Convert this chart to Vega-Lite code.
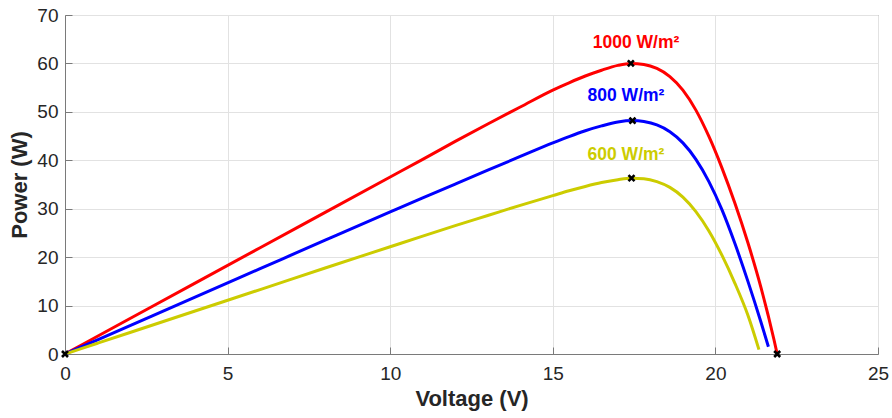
{
  "$schema": "https://vega.github.io/schema/vega-lite/v6.json",
  "width": 813,
  "height": 339,
  "autosize": {"type": "none"},
  "padding": {"left": 65, "top": 15, "right": 14, "bottom": 64},
  "background": "white",
  "config": {
    "view": {"stroke": "#7a7a7a", "strokeWidth": 1},
    "font": "Liberation Sans",
    "axis": {
      "grid": true,
      "gridColor": "#e2e2e2",
      "gridWidth": 1,
      "domainColor": "#7a7a7a",
      "tickColor": "#7a7a7a",
      "tickSize": -7,
      "labelFlush": false,
      "labelFont": "Liberation Sans",
      "labelFontSize": 19,
      "labelColor": "#262626",
      "titleFont": "Liberation Sans",
      "titleFontSize": 22,
      "titleFontWeight": "bold",
      "titleColor": "#262626"
    }
  },
  "datasets": {
    "curves": [
      {"G": "1000", "V": 0, "P": 0}, {"G": "1000", "V": 1, "P": 3.66}, {"G": "1000", "V": 2, "P": 7.32},
      {"G": "1000", "V": 4, "P": 14.64}, {"G": "1000", "V": 6, "P": 21.95}, {"G": "1000", "V": 8, "P": 29.25},
      {"G": "1000", "V": 10, "P": 36.55}, {"G": "1000", "V": 11, "P": 40.2}, {"G": "1000", "V": 12, "P": 43.9},
      {"G": "1000", "V": 13, "P": 47.5}, {"G": "1000", "V": 14, "P": 51.0}, {"G": "1000", "V": 15, "P": 54.5},
      {"G": "1000", "V": 15.5, "P": 56.0}, {"G": "1000", "V": 16, "P": 57.4}, {"G": "1000", "V": 16.5, "P": 58.6},
      {"G": "1000", "V": 17, "P": 59.6}, {"G": "1000", "V": 17.4, "P": 60.0}, {"G": "1000", "V": 17.8, "P": 59.8},
      {"G": "1000", "V": 18.2, "P": 58.96}, {"G": "1000", "V": 18.6, "P": 57.28}, {"G": "1000", "V": 19.0, "P": 54.48},
      {"G": "1000", "V": 19.4, "P": 50.36}, {"G": "1000", "V": 19.8, "P": 44.92}, {"G": "1000", "V": 20.2, "P": 38.44},
      {"G": "1000", "V": 20.6, "P": 31.12}, {"G": "1000", "V": 21.0, "P": 22.96}, {"G": "1000", "V": 21.4, "P": 13.76},
      {"G": "1000", "V": 21.8, "P": 3.0}, {"G": "1000", "V": 21.9, "P": 0},

      {"G": "800", "V": 0, "P": 0}, {"G": "800", "V": 1, "P": 2.94}, {"G": "800", "V": 2, "P": 5.88},
      {"G": "800", "V": 4, "P": 11.76}, {"G": "800", "V": 6, "P": 17.63}, {"G": "800", "V": 8, "P": 23.5},
      {"G": "800", "V": 10, "P": 29.35}, {"G": "800", "V": 11, "P": 32.25}, {"G": "800", "V": 12, "P": 35.1},
      {"G": "800", "V": 13, "P": 37.95}, {"G": "800", "V": 14, "P": 40.8}, {"G": "800", "V": 15, "P": 43.6},
      {"G": "800", "V": 15.5, "P": 44.9}, {"G": "800", "V": 16, "P": 46.1}, {"G": "800", "V": 16.5, "P": 47.1},
      {"G": "800", "V": 17, "P": 47.9}, {"G": "800", "V": 17.45, "P": 48.2}, {"G": "800", "V": 17.8, "P": 48.0},
      {"G": "800", "V": 18.2, "P": 47.3}, {"G": "800", "V": 18.6, "P": 45.9}, {"G": "800", "V": 19.0, "P": 43.6},
      {"G": "800", "V": 19.4, "P": 40.2}, {"G": "800", "V": 19.8, "P": 35.6}, {"G": "800", "V": 20.2, "P": 29.8},
      {"G": "800", "V": 20.6, "P": 22.8}, {"G": "800", "V": 21.0, "P": 15.0}, {"G": "800", "V": 21.4, "P": 6.6},
      {"G": "800", "V": 21.63, "P": 1.5},

      {"G": "600", "V": 0, "P": 0}, {"G": "600", "V": 1, "P": 2.22}, {"G": "600", "V": 2, "P": 4.44},
      {"G": "600", "V": 4, "P": 8.88}, {"G": "600", "V": 6, "P": 13.3}, {"G": "600", "V": 8, "P": 17.75},
      {"G": "600", "V": 10, "P": 22.15}, {"G": "600", "V": 11, "P": 24.35}, {"G": "600", "V": 12, "P": 26.5},
      {"G": "600", "V": 13, "P": 28.6}, {"G": "600", "V": 14, "P": 30.7}, {"G": "600", "V": 15, "P": 32.7},
      {"G": "600", "V": 15.5, "P": 33.7}, {"G": "600", "V": 16, "P": 34.6}, {"G": "600", "V": 16.5, "P": 35.4},
      {"G": "600", "V": 17, "P": 36.0}, {"G": "600", "V": 17.42, "P": 36.3}, {"G": "600", "V": 17.8, "P": 36.2},
      {"G": "600", "V": 18.2, "P": 35.6}, {"G": "600", "V": 18.6, "P": 34.4}, {"G": "600", "V": 19.0, "P": 32.4},
      {"G": "600", "V": 19.4, "P": 29.4}, {"G": "600", "V": 19.8, "P": 25.4}, {"G": "600", "V": 20.2, "P": 20.4},
      {"G": "600", "V": 20.6, "P": 14.6}, {"G": "600", "V": 21.0, "P": 8.0}, {"G": "600", "V": 21.34, "P": 0.9}
    ],
    "markers": [
      {"V": 0, "P": 0},
      {"V": 17.4, "P": 60.0},
      {"V": 17.45, "P": 48.2},
      {"V": 17.42, "P": 36.3},
      {"V": 21.9, "P": 0}
    ],
    "labels": [
      {"G": "1000", "V": 17.56, "P": 64.3, "t": "1000 W/m²"},
      {"G": "800", "V": 17.25, "P": 53.2, "t": "800 W/m²"},
      {"G": "600", "V": 17.25, "P": 41.0, "t": "600 W/m²"}
    ]
  },
  "encoding": {
    "x": {
      "field": "V", "type": "quantitative",
      "scale": {"domain": [0, 25], "nice": false, "zero": false},
      "axis": {"values": [0, 5, 10, 15, 20, 25], "title": "Voltage (V)", "labelPadding": 17, "titlePadding": 5}
    },
    "y": {
      "field": "P", "type": "quantitative",
      "scale": {"domain": [0, 70], "nice": false},
      "axis": {"values": [0, 10, 20, 30, 40, 50, 60, 70], "title": "Power (W)", "labelPadding": 14, "titlePadding": 5}
    }
  },
  "layer": [
    {
      "data": {"name": "curves"},
      "mark": {"type": "line", "strokeWidth": 3, "interpolate": "monotone", "clip": true},
      "encoding": {
        "color": {
          "field": "G", "type": "nominal",
          "scale": {"domain": ["1000", "800", "600"], "range": ["#ff0000", "#0000ff", "#cccc00"]},
          "legend": null
        },
        "detail": {"field": "G"}
      }
    },
    {
      "data": {"name": "markers"},
      "mark": {
        "type": "point",
        "shape": "M-1,-1L1,1M-1,1L1,-1",
        "filled": false,
        "stroke": "black",
        "strokeWidth": 2.6,
        "size": 36,
        "opacity": 1
      }
    },
    {
      "data": {"name": "labels"},
      "mark": {"type": "text", "fontSize": 17.5, "fontWeight": "bold", "font": "Liberation Sans", "align": "center", "baseline": "middle"},
      "encoding": {
        "text": {"field": "t"},
        "color": {
          "field": "G", "type": "nominal",
          "scale": {"domain": ["1000", "800", "600"], "range": ["#ff0000", "#0000ff", "#cccc00"]},
          "legend": null
        }
      }
    }
  ]
}
